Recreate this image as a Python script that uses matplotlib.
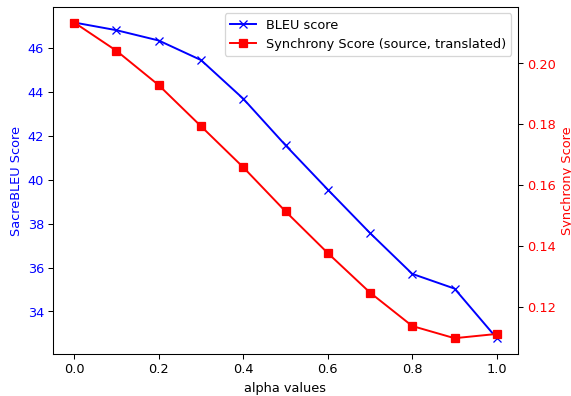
import matplotlib
matplotlib.use("Agg")
import matplotlib.pyplot as plt

alpha = [0.0, 0.1, 0.2, 0.3, 0.4, 0.5, 0.6, 0.7, 0.8, 0.9, 1.0]
bleu = [47.16, 46.81, 46.34, 45.45, 43.69, 41.57, 39.55, 37.57, 35.71, 35.04, 32.78]
sync = [0.2134, 0.2041, 0.1928, 0.1793, 0.1658, 0.1513, 0.1376, 0.1246, 0.1136, 0.1096, 0.1110]

DPI = 93
fig, ax1 = plt.subplots(figsize=(571 / DPI, 396.4 / DPI), dpi=DPI)
fig.subplots_adjust(left=0.093, right=0.907, top=0.982, bottom=0.106)

l1, = ax1.plot(alpha, bleu, color='blue', marker='x', label='BLEU score')
ax1.set_xlabel('alpha values')
ax1.set_ylabel('SacreBLEU Score', color='blue')
ax1.tick_params(axis='y', labelcolor='blue')

ax2 = ax1.twinx()
l2, = ax2.plot(alpha, sync, color='red', marker='s', label='Synchrony Score (source, translated)')
ax2.set_ylabel('Synchrony Score', color='red')
ax2.tick_params(axis='y', labelcolor='red')

ax2.legend(handles=[l1, l2], loc='upper right')

fig.savefig('out.png', dpi=DPI)
